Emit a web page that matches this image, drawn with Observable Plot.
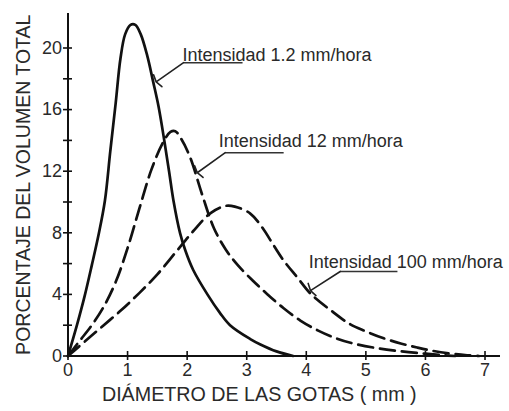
<!DOCTYPE html>
<html>
<head>
<meta charset="utf-8">
<script src="https://cdn.jsdelivr.net/npm/d3@7"></script>
<script src="https://cdn.jsdelivr.net/npm/@observablehq/plot@0.6"></script>
<style>
  html, body { margin: 0; padding: 0; background: #fff; }
</style>
</head>
<body>
<div id="chart"></div>
<script>
// ---- Data ----
const series = ["Intensidad 1.2 mm/hora", "Intensidad 12 mm/hora", "Intensidad 100 mm/hora"];

const diam12 = [0, 0.15, 0.28, 0.40, 0.52, 0.62, 0.71, 0.80, 0.88, 0.96, 1.05, 1.13, 1.22, 1.33, 1.43, 1.52, 1.62, 1.70, 1.77, 1.88, 1.97, 2.10, 2.34, 2.55, 2.72, 3.06, 3.23, 3.50, 3.78];
const pct12  = [0, 2.0, 3.9, 5.9, 8.0, 10.1, 13.3, 16.4, 19.3, 20.9, 21.5, 21.5, 20.9, 19.5, 17.8, 16.2, 13.9, 11.9, 10.1, 8.0, 6.85, 5.6, 4.0, 2.8, 2.0, 1.1, 0.75, 0.3, 0];

const diam120 = [0, 0.2, 0.4, 0.6, 0.8, 1.0, 1.2, 1.4, 1.6, 1.72, 1.80, 1.90, 2.05, 2.25, 2.45, 2.65, 2.85, 3.10, 3.35, 3.62, 3.90, 4.20, 4.50, 4.80, 5.20, 5.60, 6.00, 6.30, 6.50];
const pct120  = [0, 1.0, 2.0, 3.2, 4.8, 7.0, 9.6, 12.1, 13.9, 14.55, 14.6, 14.1, 12.9, 10.5, 8.3, 6.9, 5.9, 4.9, 4.0, 3.1, 2.3, 1.65, 1.15, 0.8, 0.5, 0.3, 0.15, 0.05, 0];

const diam100 = [0, 0.3, 0.6, 0.9, 1.2, 1.5, 1.8, 2.1, 2.4, 2.65, 2.8, 3.06, 3.25, 3.45, 3.62, 3.85, 4.07, 4.40, 4.74, 5.00, 5.30, 5.60, 5.86, 6.10, 6.42, 6.70, 6.90];
const pct100  = [0, 1.0, 2.0, 3.0, 4.1, 5.3, 6.7, 8.1, 9.3, 9.75, 9.7, 9.25, 8.4, 7.2, 6.2, 5.1, 4.05, 3.0, 2.05, 1.6, 1.15, 0.8, 0.55, 0.35, 0.16, 0.05, 0];

const xTicks = [0, 1, 2, 3, 4, 5, 6, 7];
const yTicks = [0, 2, 4, 6, 8, 10, 12, 14, 16, 18, 20];
const yTickLabels = [0, 4, 8, 12, 16, 20];

const xTitle = "DIÁMETRO DE LAS GOTAS ( mm )";
const yTitle = "PORCENTAJE DEL VOLUMEN TOTAL";

// annotation anchors (data units): text position, underline, leader tip on curve
const annText   = series;
const annTextX  = [1.92, 2.53, 4.04];
const annTextY  = [19.55, 13.95, 6.12];
const annLineX1 = [1.94, 2.64, 4.57];
const annLineX2 = [2.93, 3.62, 5.53];
const annLineY  = [19.05, 13.2, 5.49];
const annTipX   = [1.48, 2.17, 4.07];
const annTipY   = [17.8, 11.9, 4.25];

// ---- Build tables ----
const rows = [];
[[diam12, pct12], [diam120, pct120], [diam100, pct100]].forEach(([xs, ys], k) => {
  xs.forEach((x, i) => rows.push({series: series[k], x, y: ys[i]}));
});
const ann = annText.map((t, i) => ({
  t, tx: annTextX[i], ty: annTextY[i],
  lx1: annLineX1[i], lx2: annLineX2[i], ly: annLineY[i],
  px: annTipX[i], py: annTipY[i]
}));

const ink = "#111";
const textInk = "#2a2a2a";

const chart = Plot.plot({
  width: 509,
  height: 411,
  marginLeft: 67.5,
  marginRight: 9,
  marginTop: 13,
  marginBottom: 55.5,
  style: {fontFamily: "'Liberation Sans', Arial, sans-serif", fontSize: "18px", color: textInk, background: "#fff"},
  x: {domain: [0, 7.26], axis: null},
  y: {domain: [0, 22.24], axis: null},
  marks: [
    // curves
    Plot.line(rows.filter(d => d.series === series[0]), {x: "x", y: "y", curve: "catmull-rom", stroke: ink, strokeWidth: 2.7}),
    Plot.line(rows.filter(d => d.series === series[1]), {x: "x", y: "y", curve: "catmull-rom", stroke: ink, strokeWidth: 2.7, strokeDasharray: "15,7"}),
    Plot.line(rows.filter(d => d.series === series[2]), {x: "x", y: "y", curve: "catmull-rom", stroke: ink, strokeWidth: 2.7, strokeDasharray: "15,7"}),
    // axes lines
    Plot.ruleY([0], {stroke: ink, strokeWidth: 2}),
    Plot.ruleX([0], {stroke: ink, strokeWidth: 2}),
    // crossing ticks
    Plot.ruleX(xTicks, {x: d => d, y1: () => 0, y2: () => 0, insetTop: -4.5, insetBottom: -4.5, stroke: ink, strokeWidth: 1.6}),
    Plot.ruleY(yTicks, {y: d => d, x1: () => 0, x2: () => 0, insetLeft: -4.5, insetRight: -4.5, stroke: ink, strokeWidth: 1.6}),
    // tick labels
    Plot.axisX(xTicks, {tickSize: 0, tickPadding: 7, fontSize: 18, color: textInk}),
    Plot.axisY(yTickLabels, {tickSize: 0, tickPadding: 6, fontSize: 18, color: textInk}),
    // axis titles
    Plot.text([xTitle], {frameAnchor: "bottom", dx: -25, dy: 45, fontSize: 19.7, fill: textInk}),
    Plot.text([yTitle], {frameAnchor: "left", textAnchor: "middle", rotate: -90, dx: -44, fontSize: 19.5, fill: textInk}),
    // annotations
    Plot.link(ann, {x1: "lx1", x2: "lx2", y1: "ly", y2: "ly", stroke: "#333", strokeWidth: 1.5}),
    Plot.arrow(ann, {x1: "lx1", y1: "ly", x2: "px", y2: "py", stroke: "#222", strokeWidth: 1.6, headAngle: 150, headLength: 7, bend: 0}),
    Plot.text(ann, {x: "tx", y: "ty", text: "t", textAnchor: "start", fontSize: 18, fill: textInk})
  ]
});
document.getElementById("chart").appendChild(chart);
</script>
</body>
</html>
